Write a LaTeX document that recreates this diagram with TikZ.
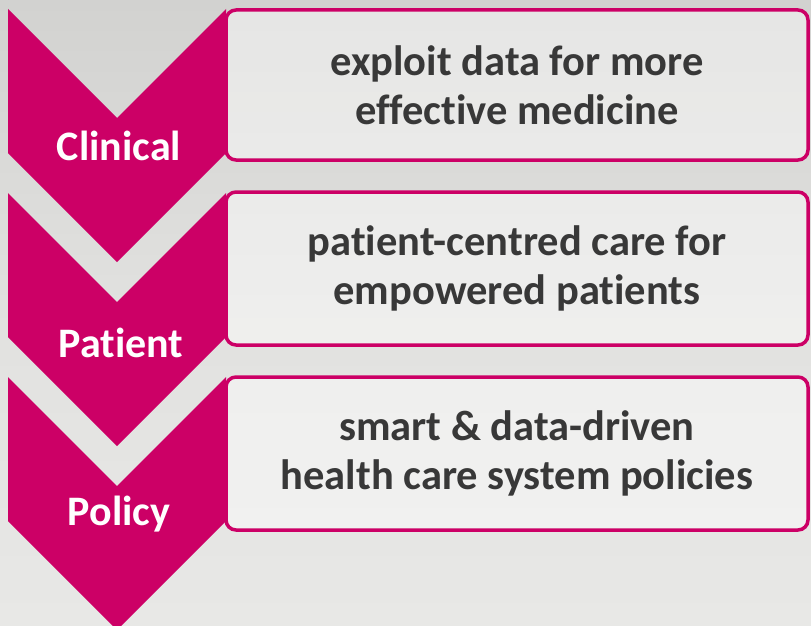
\documentclass[tikz,border=0pt]{standalone}
\usepackage{fontspec}
\setmainfont{Carlito}[Ligatures=NoCommon]
\usetikzlibrary{positioning}

\definecolor{berry}{HTML}{CC0066}
\definecolor{inkgrey}{HTML}{383838}
\definecolor{photolight}{HTML}{E8E8E6}
\definecolor{photodark}{HTML}{D2D2D0}

\begin{document}
\begin{tikzpicture}[
  x = 1pt,
  y = -1pt,
  chevron/.style={fill=berry, draw=none},
  stage/.style={text=white, font=\bfseries\fontsize{42}{48}\selectfont, inner sep=0pt},
  goal-box/.style={draw=berry, line width=3.5pt, rounded corners=10pt,
    fill=white, fill opacity=0.45, text opacity=1, text=inkgrey,
    align=center, minimum width=582pt, minimum height=150pt,
    font=\bfseries\fontsize{42.5}{49}\selectfont},
  ]
  % background standing in for the photo
  \useasboundingbox (0,0) rectangle (811,626);
  \shade[top color=photodark, bottom color=photolight, middle color=photolight!70!photodark]
    (0,0) rectangle (811,626);

  % chevrons on the left
  \foreach \top in {9,193,377} {
    \path[chevron] (8,\top) -- (117,\top+109) -- (226,\top) -- (226,\top+144)
      -- (117,\top+253) -- (8,\top+144) -- cycle;
  }

  \node[stage] (clinical) at (119,146) {Clinical};
  \node[stage] (patient) at (121,343) {Patient};
  \node[stage] (policy) at (119,514) {Policy};

  % goal boxes on the right
  \node[goal-box] (clinical-goal) at (517,85)
    {exploit data for more\\effective medicine};
  \node[goal-box, minimum height=153pt] (patient-goal) at (517,268.5)
    {patient-centred care for\\empowered patients};
  \node[goal-box, minimum height=153pt] (policy-goal) at (517,453.5)
    {smart \& data-driven\\health care system policies};
\end{tikzpicture}
\end{document}
